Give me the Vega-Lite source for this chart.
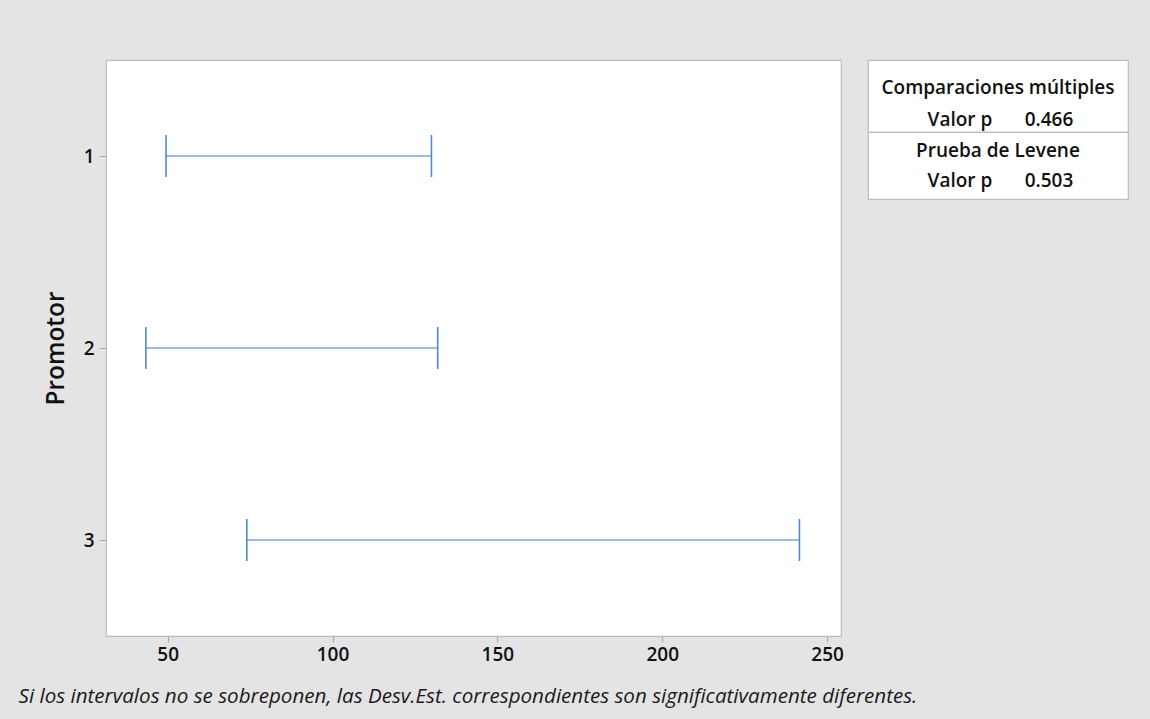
{
  "$schema": "https://vega.github.io/schema/vega-lite/v6.json",
  "background": "#e4e4e4",
  "padding": {"left": 18, "top": 59, "right": 24, "bottom": 12},
  "title": {
    "text": "Si los intervalos no se sobreponen, las Desv.Est. correspondientes son significativamente diferentes.",
    "orient": "bottom",
    "anchor": "start",
    "font": "Open Sans",
    "fontStyle": "italic",
    "fontWeight": "normal",
    "fontSize": 20.6,
    "color": "#1a1a1a",
    "offset": 22,
    "dx": -24
  },
  "bounds": "flush",
  "spacing": 27,
  "hconcat": [
    {
      "width": 735,
      "height": 576,
      "data": {
        "values": [
          {"promotor": "1", "inferior": 49.5, "superior": 130.0},
          {"promotor": "2", "inferior": 43.4, "superior": 131.9},
          {"promotor": "3", "inferior": 74.0, "superior": 241.6}
        ]
      },
      "encoding": {
        "y": {
          "field": "promotor",
          "type": "nominal",
          "scale": {"type": "point", "padding": 0.5},
          "axis": {"title": "Promotor", "labelAngle": 0, "tickSize": 7, "labelPadding": 5}
        }
      },
      "layer": [
        {
          "mark": {"type": "rule", "color": "#3d78c5", "strokeWidth": 1.2},
          "encoding": {
            "x": {
              "field": "inferior",
              "type": "quantitative",
              "title": null,
              "scale": {"domain": [31.3, 254.2], "nice": false, "zero": false},
              "axis": {"values": [50, 100, 150, 200, 250], "tickSize": 6, "labelPadding": 3}
            },
            "x2": {"field": "superior"}
          }
        },
        {
          "mark": {"type": "tick", "color": "#5289cc", "size": 42, "thickness": 1.6, "opacity": 1},
          "encoding": {"x": {"field": "inferior", "type": "quantitative", "title": null}}
        },
        {
          "mark": {"type": "tick", "color": "#5289cc", "size": 42, "thickness": 1.6, "opacity": 1},
          "encoding": {"x": {"field": "superior", "type": "quantitative", "title": null}}
        }
      ]
    },
    {
      "data": {
        "values": [
          {"prueba": "Comparaciones múltiples", "etiqueta": "Valor p", "valor": "0.466"},
          {"prueba": "Prueba de Levene", "etiqueta": "Valor p", "valor": "0.503"}
        ]
      },
      "spacing": 0,
      "bounds": "flush",
      "vconcat": [
        {
          "width": 260,
          "height": 72,
          "transform": [{"filter": "datum.prueba === 'Comparaciones múltiples'"}],
          "layer": [
            {
              "mark": {"type": "text", "font": "Open Sans", "fontWeight": 600, "fontSize": 19, "color": "#111"},
              "encoding": {
                "text": {"field": "prueba"},
                "y": {
                  "datum": "encabezado",
                  "type": "nominal",
                  "scale": {"type": "point", "domain": ["encabezado", "fila"], "padding": 0.625, "align": 0.7},
                  "axis": null
                }
              }
            },
            {
              "mark": {"type": "text", "font": "Open Sans", "fontWeight": 600, "fontSize": 19, "color": "#111"},
              "encoding": {
                "text": {"field": "etiqueta"},
                "y": {"datum": "fila", "type": "nominal"},
                "x": {
                  "datum": "etiqueta",
                  "type": "nominal",
                  "scale": {"type": "point", "domain": ["etiqueta", "valor"], "padding": 0.96, "align": 0.538},
                  "axis": null
                }
              }
            },
            {
              "mark": {"type": "text", "font": "Open Sans", "fontWeight": 600, "fontSize": 19, "color": "#111"},
              "encoding": {
                "text": {"field": "valor"},
                "y": {"datum": "fila", "type": "nominal"},
                "x": {"datum": "valor", "type": "nominal"}
              }
            }
          ]
        },
        {
          "width": 260,
          "height": 67,
          "transform": [{"filter": "datum.prueba === 'Prueba de Levene'"}],
          "layer": [
            {
              "mark": {"type": "text", "font": "Open Sans", "fontWeight": 600, "fontSize": 19, "color": "#111"},
              "encoding": {
                "text": {"field": "prueba"},
                "y": {
                  "datum": "encabezado",
                  "type": "nominal",
                  "scale": {"type": "point", "domain": ["encabezado", "fila"], "padding": 0.617, "align": 0.514},
                  "axis": null
                }
              }
            },
            {
              "mark": {"type": "text", "font": "Open Sans", "fontWeight": 600, "fontSize": 19, "color": "#111"},
              "encoding": {
                "text": {"field": "etiqueta"},
                "y": {"datum": "fila", "type": "nominal"},
                "x": {
                  "datum": "etiqueta",
                  "type": "nominal",
                  "scale": {"type": "point", "domain": ["etiqueta", "valor"], "padding": 0.96, "align": 0.538},
                  "axis": null
                }
              }
            },
            {
              "mark": {"type": "text", "font": "Open Sans", "fontWeight": 600, "fontSize": 19, "color": "#111"},
              "encoding": {
                "text": {"field": "valor"},
                "y": {"datum": "fila", "type": "nominal"},
                "x": {"datum": "valor", "type": "nominal"}
              }
            }
          ]
        }
      ]
    }
  ],
  "config": {
    "view": {"stroke": "#bdbdbd", "strokeWidth": 1.2, "fill": "white"},
    "axis": {
      "grid": false,
      "domain": false,
      "tickColor": "#a8a8a8",
      "labelFont": "Open Sans",
      "labelFontWeight": 600,
      "labelFontSize": 19,
      "labelColor": "#111",
      "titleFont": "Open Sans",
      "titleFontWeight": 600,
      "titleFontSize": 24.5,
      "titleColor": "#111",
      "titlePadding": 15
    }
  }
}
